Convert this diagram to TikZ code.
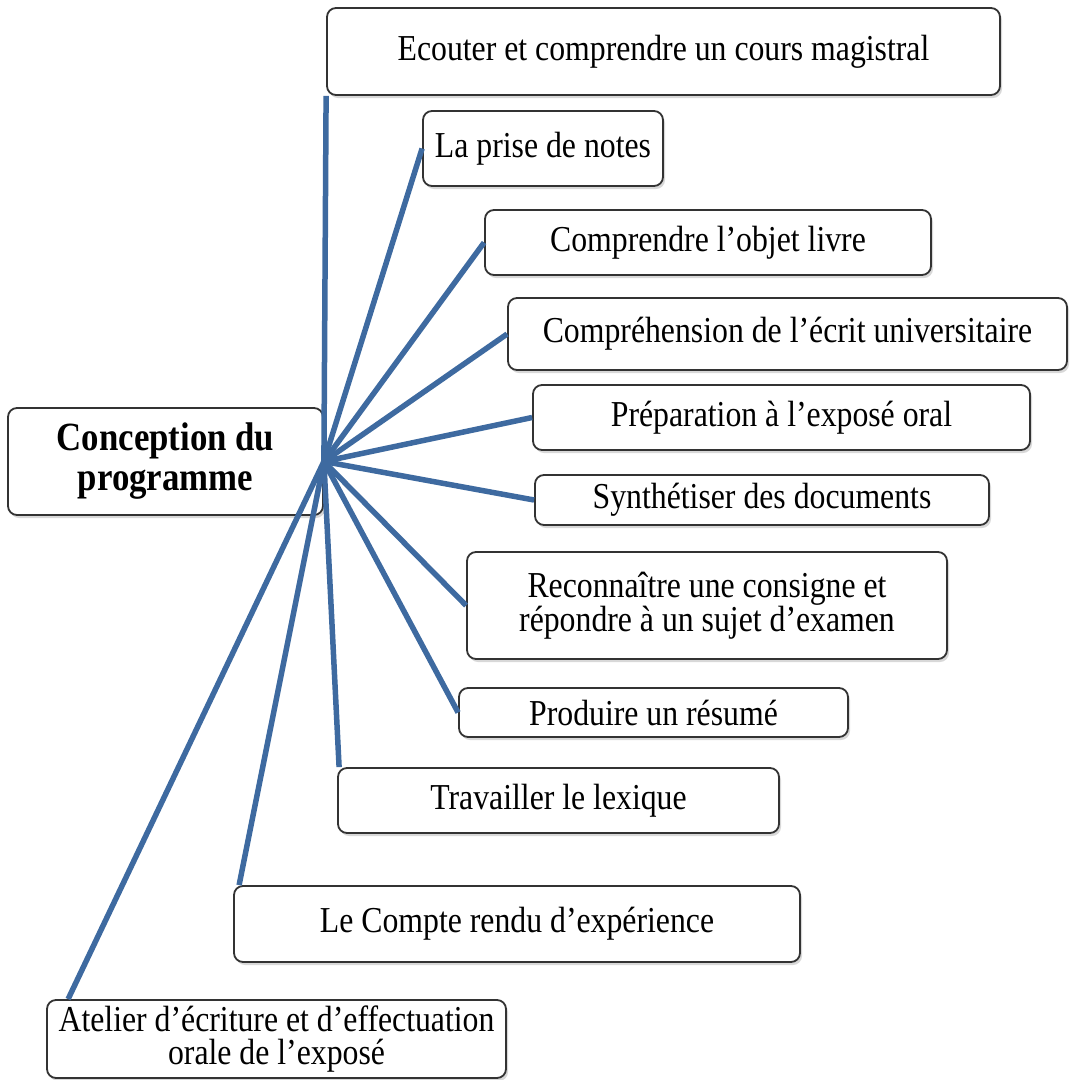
\documentclass[tikz,border=0pt]{standalone}
\usepackage{fontspec}
\setmainfont[FakeStretch=0.87]{Liberation Serif}
\usetikzlibrary{shadows}

\definecolor{linkblue}{RGB}{62,106,160}

\begin{document}
\begin{tikzpicture}[x=1pt,y=-1pt,
	box/.style={draw=black!80,line width=1.8pt,rounded corners=9pt,fill=white,
		drop shadow={shadow xshift=2pt,shadow yshift=-3pt,fill=black!30},
		align=center,inner sep=0pt,font=\fontsize{36.5}{33}\selectfont},
	link/.style={draw=linkblue,line width=5.5pt}]
	\useasboundingbox (0,0) rectangle (1072,1080);

	\node[box,minimum width=315,minimum height=107,font=\fontsize{40}{40}\selectfont\bfseries] (conception) at (165.5,461.5) {Conception du\\programme};
	\node[box,minimum width=673,minimum height=87] (ecouter-cours) at (663.5,51.5) {Ecouter et comprendre un cours magistral};
	\node[box,minimum width=240,minimum height=75] (prise-notes) at (543,148.5) {La prise de notes};
	\node[box,minimum width=446,minimum height=65] (objet-livre) at (708,242.5) {Comprendre l’objet livre};
	\node[box,minimum width=559,minimum height=72] (ecrit-univ) at (787.5,334) {Compréhension de l’écrit universitaire};
	\node[box,minimum width=497,minimum height=65] (expose-oral) at (781.5,417.5) {Préparation à l’exposé oral};
	\node[box,minimum width=454,minimum height=50] (synth-docs) at (762,500) {Synthétiser des documents};
	\node[box,minimum width=480,minimum height=107] (consigne-examen) at (707,605.5) {Reconnaître une consigne et\\répondre à un sujet d’examen};
	\node[box,minimum width=389,minimum height=49] (produire-resume) at (653.5,712.5) {Produire un résumé};
	\node[box,minimum width=441,minimum height=65] (lexique) at (558.5,800.5) {Travailler le lexique};
	\node[box,minimum width=566,minimum height=76] (compte-rendu) at (517,924) {Le Compte rendu d’expérience};
	\node[box,minimum width=459,minimum height=78] (atelier-ecriture) at (276.5,1039) {Atelier d’écriture et d’effectuation\\orale de l’exposé};

	\draw[link] (conception.east) -- (ecouter-cours.south west);
	\draw[link] (conception.east) -- (prise-notes.west);
	\draw[link] (conception.east) -- (objet-livre.west);
	\draw[link] (conception.east) -- (ecrit-univ.west);
	\draw[link] (conception.east) -- (expose-oral.west);
	\draw[link] (conception.east) -- (synth-docs.west);
	\draw[link] (conception.east) -- (consigne-examen.west);
	\draw[link] (conception.east) -- (produire-resume.west);
	\draw[link] (conception.east) -- ([xshift=2pt]lexique.north west);
	\draw[link] (conception.east) -- ([xshift=6pt]compte-rendu.north west);
	\draw[link] (conception.east) -- ([xshift=22pt]atelier-ecriture.north west);
\end{tikzpicture}
\end{document}
